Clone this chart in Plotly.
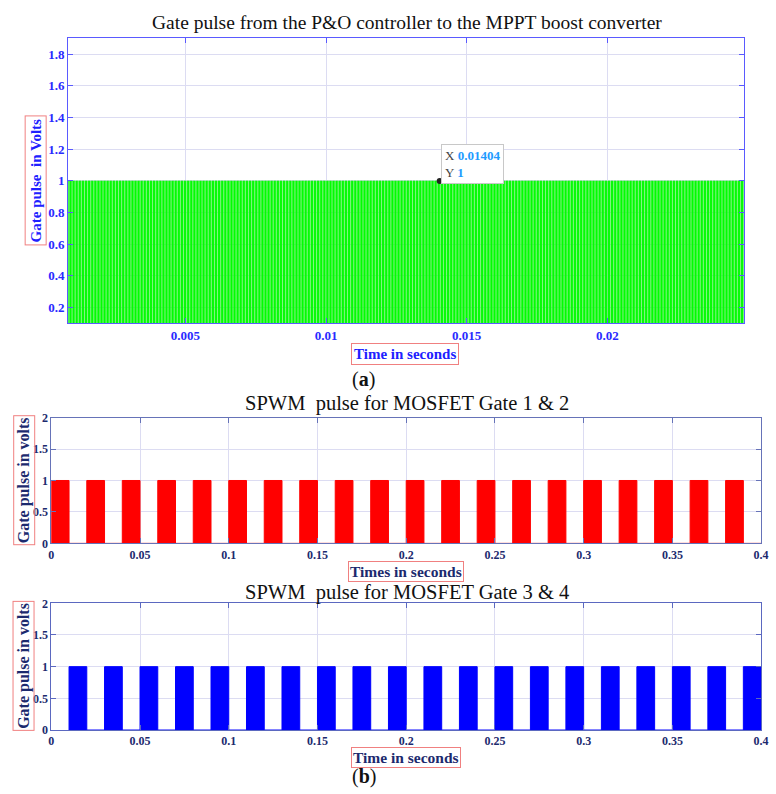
import plotly.graph_objects as go

W, H = 776, 794

# ---------------- data ----------------
# (a) P&O gate pulse (high-frequency pulse train)
po_period = 0.00011      # seconds per switching cycle (read from stripe spacing)
po_duty = 0.7            # fraction of the period the pulse is high
po_t_start = 0.0
po_t_end = 0.0252
po_level = 1.0
datatip_x = 0.01404
datatip_y = 1

# (b) SPWM pulses: start times (s), pulse width (s), level (V)
gate12_starts = [0.00, 0.02, 0.04, 0.06, 0.08, 0.10, 0.12, 0.14, 0.16, 0.18,
                 0.20, 0.22, 0.24, 0.26, 0.28, 0.30, 0.32, 0.34, 0.36, 0.38]
gate34_starts = [0.01, 0.03, 0.05, 0.07, 0.09, 0.11, 0.13, 0.15, 0.17, 0.19,
                 0.21, 0.23, 0.25, 0.27, 0.29, 0.31, 0.33, 0.35, 0.37, 0.39]
spwm_width = 0.01
spwm_level = 1.0
spwm_t_end = 0.4

top_xticks = [0.005, 0.01, 0.015, 0.02]
top_xticktext = ["0.005", "0.01", "0.015", "0.02"]
top_yticks = [0.2, 0.4, 0.6, 0.8, 1.0, 1.2, 1.4, 1.6, 1.8]
top_yticktext = ["0.2", "0.4", "0.6", "0.8", "1", "1.2", "1.4", "1.6", "1.8"]
spwm_xticks = [0, 0.05, 0.1, 0.15, 0.2, 0.25, 0.3, 0.35, 0.4]
spwm_xticktext = ["0", "0.05", "0.1", "0.15", "0.2", "0.25", "0.3", "0.35", "0.4"]
spwm_yticks = [0, 0.5, 1, 1.5, 2]
spwm_yticktext = ["0", "0.5", "1", "1.5", "2"]


def pulse_vertices(starts, width, level, t_end):
    xs, ys = [], []
    for s in starts:
        xs += [s, s, s + width, s + width]
        ys += [0, level, level, 0]
    if xs and xs[-1] < t_end:
        xs.append(t_end)
        ys.append(0)
    return xs, ys


po_starts = []
t = po_t_start
while t < po_t_end:
    po_starts.append(t)
    t += po_period
po_x, po_y = pulse_vertices(po_starts, po_period * po_duty, po_level, po_t_end)
g12_x, g12_y = pulse_vertices(gate12_starts, spwm_width, spwm_level, spwm_t_end)
g34_x, g34_y = pulse_vertices(gate34_starts, spwm_width, spwm_level, spwm_t_end)


def px(x):
    return x / W


def py(y):
    return 1 - y / H


fig = go.Figure()

fig.add_trace(go.Scatter(x=po_x, y=po_y, mode="lines", fill="tozeroy",
                         line=dict(color="#22ee22", width=0.6),
                         fillcolor="#00ff00", xaxis="x", yaxis="y",
                         hoverinfo="skip", showlegend=False))
fig.add_trace(go.Scatter(x=[datatip_x], y=[datatip_y], mode="markers",
                         marker=dict(color="#222222", size=6),
                         xaxis="x", yaxis="y", hoverinfo="skip", showlegend=False))
fig.add_trace(go.Scatter(x=g12_x, y=g12_y, mode="lines", fill="tozeroy",
                         line=dict(color="#ff0000", width=1),
                         fillcolor="#ff0000", xaxis="x2", yaxis="y2",
                         hoverinfo="skip", showlegend=False))
fig.add_trace(go.Scatter(x=g34_x, y=g34_y, mode="lines", fill="tozeroy",
                         line=dict(color="#0000ff", width=1),
                         fillcolor="#0000ff", xaxis="x3", yaxis="y3",
                         hoverinfo="skip", showlegend=False))

top_tick_font = dict(family="Liberation Serif", size=13, color="#2a2aff")
spwm_tick_font = dict(family="Liberation Serif", size=12, color="#1c2a6e")
grid_c = "#dcdcf2"


def bold(labels):
    return ["<b>%s</b>" % s for s in labels]


def axis(domain, rng, tv, tt, font, linec, anchor):
    return dict(domain=domain, range=rng, tickvals=tv, ticktext=bold(tt),
                tickfont=font, showline=True, linecolor=linec, linewidth=1,
                mirror="ticks", ticks="inside", ticklen=5, tickcolor=linec,
                showgrid=True, gridcolor=grid_c, gridwidth=1, zeroline=False,
                anchor=anchor, fixedrange=True, ticklabeloverflow="allow")


fig.update_layout(
    width=W, height=H, margin=dict(l=0, r=0, t=0, b=0),
    paper_bgcolor="white", plot_bgcolor="white", showlegend=False,
    hovermode=False,
    xaxis=axis([px(66), px(752)], [0.00083, 0.02487], top_xticks, top_xticktext,
               top_tick_font, "#5a5aff", "y"),
    yaxis=axis([py(322), py(32)], [0.1, 1.9], top_yticks, top_yticktext,
               top_tick_font, "#5a5aff", "x"),
    xaxis2=axis([px(49), px(769)], [0, 0.4], spwm_xticks, spwm_xticktext,
                spwm_tick_font, "#6673b8", "y2"),
    yaxis2=axis([py(546), py(418)], [0, 2], spwm_yticks, spwm_yticktext,
                spwm_tick_font, "#6673b8", "x2"),
    xaxis3=axis([px(49), px(769)], [0, 0.4], spwm_xticks, spwm_xticktext,
                spwm_tick_font, "#5b68c0", "y3"),
    yaxis3=axis([py(736), py(607)], [0, 2], spwm_yticks, spwm_yticktext,
                spwm_tick_font, "#5b68c0", "x3"),
)

ann = []
serif = "Liberation Serif"
# titles
ann.append(dict(text="Gate pulse from the P&O controller to the MPPT boost converter",
                x=px(410), y=py(16), font=dict(family=serif, size=19.5, color="#111")))
ann.append(dict(text="SPWM  pulse for MOSFET Gate 1 & 2",
                x=px(410), y=py(404), font=dict(family=serif, size=20.5, color="#111")))
ann.append(dict(text="SPWM  pulse for MOSFET Gate 3 & 4",
                x=px(410), y=py(596), font=dict(family=serif, size=20.5, color="#111")))
# axis titles with red boxes
box_c = "#f08080"
ann.append(dict(text="<b>Gate pulse  in Volts</b>", x=px(33), y=py(177), textangle=-90,
                font=dict(family=serif, size=15, color="#2020ff"),
                bordercolor=box_c, borderwidth=1, borderpad=2))
ann.append(dict(text="<b>Time in seconds</b>", x=px(408), y=py(353),
                font=dict(family=serif, size=15, color="#2020ff"),
                bordercolor=box_c, borderwidth=1, borderpad=2))
ann.append(dict(text="<b>Gate pulse in volts</b>", x=px(21), y=py(482), textangle=-90,
                font=dict(family=serif, size=16, color="#1c2a6e"),
                bordercolor=box_c, borderwidth=1, borderpad=1))
ann.append(dict(text="<b>Times in seconds</b>", x=px(409), y=py(575),
                font=dict(family=serif, size=15.5, color="#1c2a6e"),
                bordercolor=box_c, borderwidth=1, borderpad=1))
ann.append(dict(text="<b>Gate pulse in volts</b>", x=px(21), y=py(671), textangle=-90,
                font=dict(family=serif, size=16, color="#1c2a6e"),
                bordercolor=box_c, borderwidth=1, borderpad=1))
ann.append(dict(text="<b>Time in seconds</b>", x=px(409), y=py(764),
                font=dict(family=serif, size=15.5, color="#1c2a6e"),
                bordercolor=box_c, borderwidth=1, borderpad=1))
# captions
ann.append(dict(text="(<b>a</b>)", x=px(366), y=py(379),
                font=dict(family=serif, size=20, color="#111")))
ann.append(dict(text="(<b>b</b>)", x=px(366), y=py(783),
                font=dict(family=serif, size=20, color="#111")))
# datatip
ann.append(dict(text="X <span style='color:#1e9bff'><b>%s</b></span><br>Y <span style='color:#1e9bff'><b>%s</b></span>"
                % (format(datatip_x, "g"), format(datatip_y, "g")),
                x=px(444), y=py(139), xanchor="left", yanchor="top", align="left",
                font=dict(family=serif, size=13, color="#444"),
                bgcolor="white", bordercolor="#c8c8c8", borderwidth=1, borderpad=3))

for a in ann:
    a.setdefault("xref", "paper")
    a.setdefault("yref", "paper")
    a.setdefault("showarrow", False)
    a.setdefault("xanchor", "center")
    a.setdefault("yanchor", "middle")
fig.update_layout(annotations=ann)

fig.write_html("out.html", config={"displayModeBar": False},
               post_script="document.body.style.margin='0';document.body.style.overflow='hidden';")
